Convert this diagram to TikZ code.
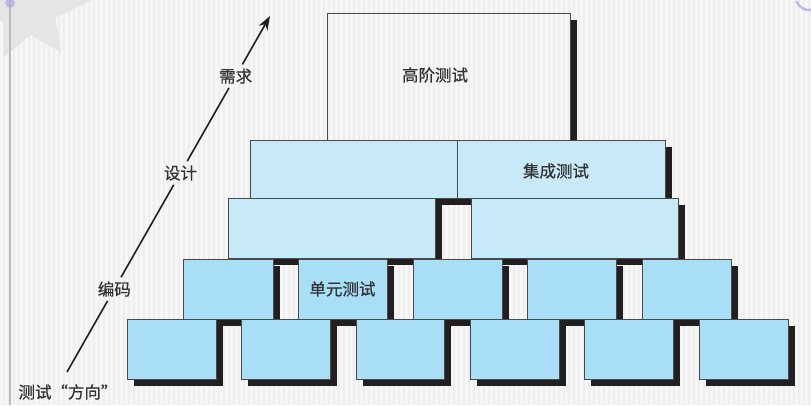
\documentclass[tikz,border=0pt]{standalone}
\usepackage{fontspec}
\newfontfamily\cjk[FakeBold=0.6]{Noto Sans CJK SC}
\usetikzlibrary{shadows,arrows.meta,calc}
\definecolor{bgc}{HTML}{EEEEEE}
\definecolor{stripec}{HTML}{F6F6F6}
\definecolor{edgec}{HTML}{4A4A4A}
\definecolor{pale}{HTML}{C8EAF8}
\definecolor{mid}{HTML}{A9DEF7}
\definecolor{shad}{HTML}{231F20}
\definecolor{txt}{HTML}{333333}
\definecolor{starc}{HTML}{E5E5E5}
\definecolor{purp}{HTML}{A99EE6}
\newcommand\brick[6]{\node[#6, anchor=north west, minimum width={(#4-#2)*1pt}, minimum height={(#5-#3)*1pt}] (#1) at (#2,#3) {};}
\tikzset{
  plainbrick/.style={draw=edgec, line width=0.9pt, inner sep=0pt, outer sep=0pt},
  brickbase/.style={plainbrick,
    drop shadow={shadow xshift=7pt, shadow yshift=-7pt, fill=shad, opacity=1}},
  palebrick/.style={brickbase, fill=pale},
  midbrick/.style={brickbase, fill=mid},
  lbl/.style={font=\cjk\fontsize{16.5}{20}\selectfont, text=txt, inner xsep=2pt, inner ysep=4pt},
  arr/.style={draw=shad, line width=1.6pt},
}
\begin{document}
\begin{tikzpicture}[x=1pt,y=-1pt]
\useasboundingbox (0,0) rectangle (811,405);
% background
\fill[bgc] (0,0) rectangle (811,405);
\foreach \s in {0,5,...,810} \fill[stripec] (\s,0) rectangle (\s+2.5,405);
\fill[starc] ($(28,5)+(-5:66)$) -- ($(28,5)+(25:30)$) -- ($(28,5)+(55:58)$) -- ($(28,5)+(85:30)$)
  -- ($(28,5)+(115:58)$) -- ($(28,5)+(145:30)$) -- ($(28,5)+(175:58)$) -- ($(28,5)+(205:30)$)
  -- ($(28,5)+(235:58)$) -- ($(28,5)+(265:30)$) -- ($(28,5)+(295:58)$) -- ($(28,5)+(325:30)$) -- cycle;
\draw[color=black!27, line width=1.2pt] (10,0) -- (10,405);
\fill[purp, opacity=0.6] (10,3) circle (5);
\draw[purp, line width=2.5pt, opacity=0.7] (812,10) arc[start angle=80, end angle=160, radius=14];
% top brick (unfilled, shadow on its right side only)
\fill[shad] (570,20) rectangle (577,140);
\brick{top}{327}{13}{570}{140}{plainbrick}
% bricks
\brick{ba}{250}{140}{457}{198}{palebrick}
\brick{bb}{457}{140}{665}{198}{palebrick}
\brick{ca}{228}{198}{435}{258}{palebrick}
\brick{cb}{471}{198}{678}{258}{palebrick}
\brick{da}{183}{259}{273}{319}{midbrick}
\brick{db}{298}{259}{387}{319}{midbrick}
\brick{dc}{413}{259}{502}{319}{midbrick}
\brick{dd}{527}{259}{616}{319}{midbrick}
\brick{de}{642}{259}{731}{319}{midbrick}
\brick{ea}{127}{319}{216}{379}{midbrick}
\brick{eb}{241}{319}{330}{379}{midbrick}
\brick{ec}{356}{319}{444}{379}{midbrick}
\brick{ed}{470}{319}{559}{379}{midbrick}
\brick{ee}{584}{319}{673}{379}{midbrick}
\brick{ef}{699}{319}{788}{379}{midbrick}
% brick texts
\node[lbl] (ttop) at (435,75) {高阶测试};
\node[lbl] (tint) at (556,171) {集成测试};
\node[lbl] (tunit) at (db.center) {单元测试};
% direction arrow
\coordinate (start) at (67,372);
\coordinate (tip) at (270,16);
\node[lbl] (code) at ($(start)!0.233!(tip)$) {编码};
\node[lbl] (design) at ($(start)!0.559!(tip)$) {设计};
\node[lbl] (req) at ($(start)!0.831!(tip)$) {需求};
\draw[arr] (start) -- (code);
\draw[arr] (code) -- (design);
\draw[arr] (design) -- (req);
\draw[arr, -{Stealth[length=14pt,width=10pt]}] (req) -- (tip);
\node[lbl] (dir) at (68,392) {测试“方向”};
\end{tikzpicture}
\end{document}
